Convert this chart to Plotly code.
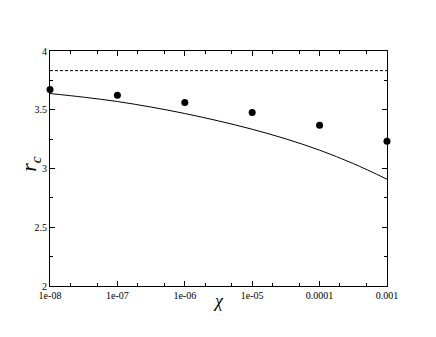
import plotly.graph_objects as go

# simulation points
chi_pts = [1e-8, 1e-7, 1e-6, 1e-5, 1e-4, 1e-3]
rc_pts = [3.672, 3.623, 3.561, 3.476, 3.368, 3.232]

# theory curve
chi_curve = [1e-8, 10**-7.5, 1e-7, 10**-6.5, 1e-6, 10**-5.5, 1e-5, 10**-4.5, 1e-4, 10**-3.5, 1e-3]
rc_curve = [3.638, 3.607, 3.570, 3.523, 3.468, 3.405, 3.334, 3.252, 3.156, 3.042, 2.909]

# asymptote
chi_dash = [1e-8, 1e-3]
rc_dash = [3.833, 3.833]

xtick_vals = [1e-8, 1e-7, 1e-6, 1e-5, 1e-4, 1e-3]
xtick_text = ["1e-08", "1e-07", "1e-06", "1e-05", "0.0001", "0.001"]
ytick_vals = [2, 2.5, 3, 3.5, 4]
ytick_text = ["2", "2.5", "3", "3.5", "4"]

serif = "Liberation Serif"

fig = go.Figure()
fig.add_trace(go.Scatter(x=chi_dash, y=rc_dash, mode="lines",
                         line=dict(color="black", width=1, dash="3px,2px")))
fig.add_trace(go.Scatter(x=chi_curve, y=rc_curve, mode="lines",
                         line=dict(color="black", width=1, shape="spline")))
fig.add_trace(go.Scatter(x=chi_pts, y=rc_pts, mode="markers", cliponaxis=False,
                         marker=dict(color="black", size=7)))

# page body has an 8px margin, so the figure is shrunk to fit the window
fig.update_layout(
    width=428, height=329,
    margin=dict(l=42, r=49, t=43, b=51),
    paper_bgcolor="white", plot_bgcolor="white",
    showlegend=False,
    font=dict(family=serif, color="black", size=10),
)
fig.update_xaxes(
    type="log", range=[-8.0001, -2.9999], automargin=False,
    tickvals=xtick_vals, ticktext=xtick_text,
    ticks="inside", ticklen=5, tickcolor="black",
    minor=dict(ticks="inside", ticklen=3, tickcolor="black", showgrid=False),
    showline=True, linecolor="black", linewidth=1, mirror="ticks",
    showgrid=False, zeroline=False,
    tickfont=dict(family=serif, size=10),
)
fig.update_yaxes(
    range=[2, 4], automargin=False,
    tickvals=ytick_vals, ticktext=ytick_text,
    ticks="inside", ticklen=5, tickcolor="black",
    minor=dict(ticks="inside", ticklen=3, tickcolor="black", dtick=0.25, showgrid=False),
    showline=True, linecolor="black", linewidth=1, mirror="ticks",
    showgrid=False, zeroline=False,
    tickfont=dict(family=serif, size=10),
)

# axis titles placed closer than plotly's standoff allows
fig.add_annotation(text="<i>χ</i>", xref="paper", yref="paper", x=0.5, y=0,
                   yshift=-15, xanchor="center", yanchor="middle", showarrow=False,
                   font=dict(family=serif, size=18))
fig.add_annotation(text="<i>r<sub>c</sub></i>", xref="paper", yref="paper", x=0, y=0.52,
                   xshift=-20, xanchor="center", yanchor="middle", textangle=-90,
                   showarrow=False, font=dict(family=serif, size=22))

fig.write_html("out.html")
